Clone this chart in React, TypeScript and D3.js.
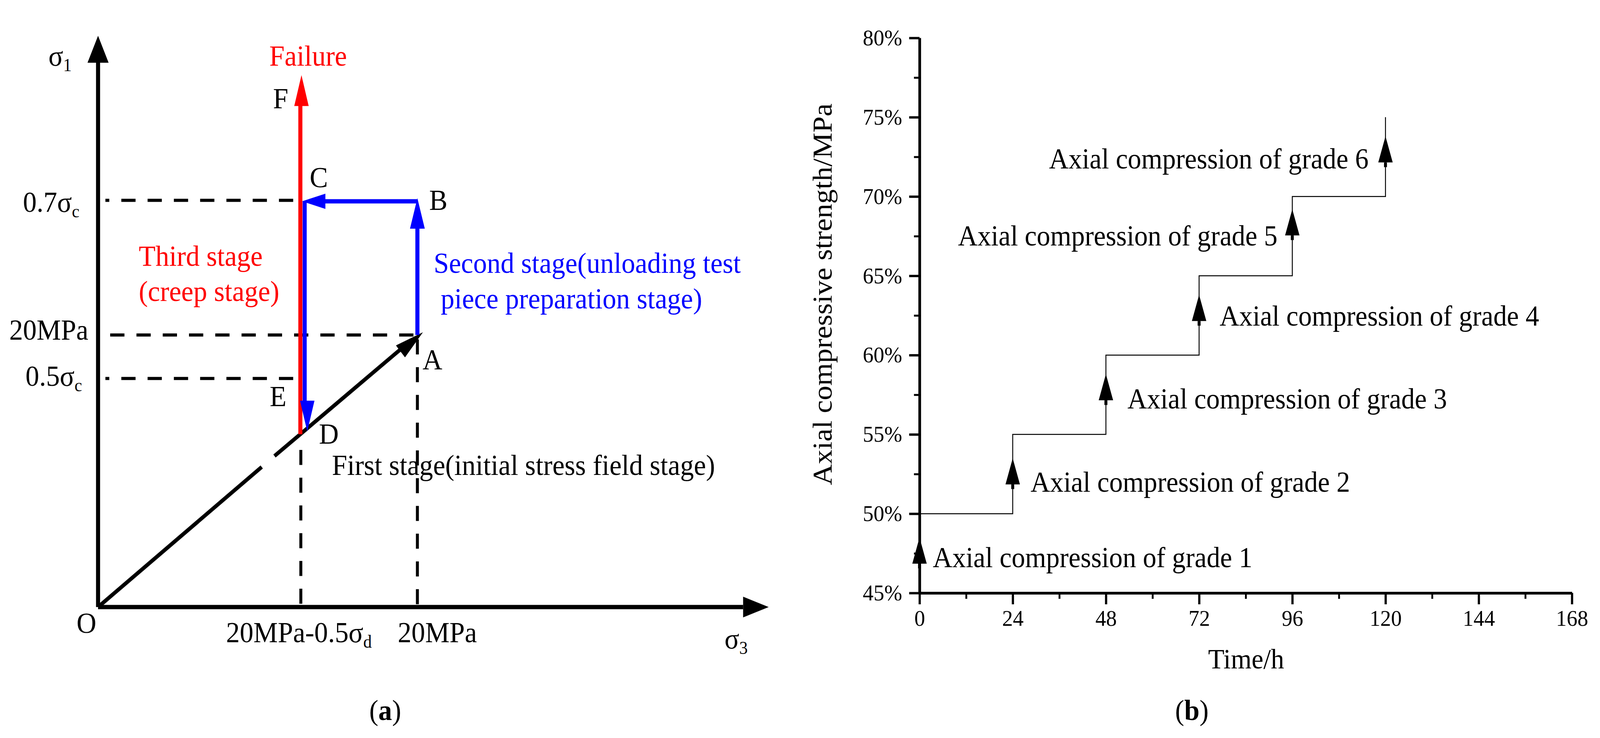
import React, { useRef, useEffect } from "react"
import * as d3 from "d3"

// panel (a): stress path, in MPa-like schematic units
const stressAxisMax = 42
const pointO = [0, 0]
const pointA = [20, 20]
const pointB = [20, 29.83]
const pointC = [12.94, 29.83]
const pointD = [12.94, 12.9]
const redBase = [12.67, 12.7]
const pointF = [12.67, 39.1]
const gapStart = [10.25, 10.3]
const gapEnd = [11.05, 11.1]
const level07 = 29.9
const level05 = 16.8

// panel (b): loading steps
const timeTicks = [0, 24, 48, 72, 96, 120, 144, 168]
const timeMinor = [12, 36, 60, 84, 108, 132, 156]
const strengthTicks = [45, 50, 55, 60, 65, 70, 75, 80]
const strengthMinor = [47.5, 52.5, 57.5, 62.5, 67.5, 72.5, 77.5]
const stepTimes = [0, 24, 24, 48, 48, 72, 72, 96, 96, 120, 120]
const stepValues = [50, 50, 55, 55, 60, 60, 65, 65, 70, 70, 75]
const gradeTimes = [0, 24, 48, 72, 96, 120]
const gradeTips = [48.5, 53.5, 58.8, 63.8, 69.2, 73.8]
const gradeLabels = [1, 2, 3, 4, 5, 6].map((g) => `Axial compression of grade ${g}`)
const gradeLabelX = [2521, 2785, 3047, 3296, 2589, 2835]
const gradeLabelY = [1451, 1258, 1045, 833, 628, 431]

const serif = "'Liberation Serif', 'Times New Roman', serif"
const BLUE = "#0000ff"
const RED = "#ff0000"

const App: React.FunctionComponent = () => {
	const svgRef = useRef<any>()

	useEffect(() => {
		document.body.style.margin = "0"
		document.body.style.overflow = "hidden"
		const svg = d3.select(svgRef.current)
		svg.selectAll("*").remove()

		const x1 = d3.scaleLinear().domain([0, 20]).range([265, 1128])
		const y1 = d3.scaleLinear().domain([0, 20]).range([1553, 857])
		const line1 = d3.line<number[]>().x((d) => x1(d[0])).y((d) => y1(d[1]))

		const a = svg.append("g")

		const stroke = (pts: number[][], color: string, w: number, dash?: string, offset?: number) =>
			a.append("path")
				.attr("d", line1(pts))
				.attr("fill", "none")
				.attr("stroke", color)
				.attr("stroke-width", w)
				.attr("stroke-dasharray", dash || null)
				.attr("stroke-dashoffset", offset || null)

		// triangle head, tip at (tx, ty) pointing along (dx, dy)
		const head = (g: any, tx: number, ty: number, dx: number, dy: number, len: number, wide: number, color: string) => {
			const bx = tx - dx * len
			const by = ty - dy * len
			const px = -dy * wide / 2
			const py = dx * wide / 2
			g.append("path")
				.attr("d", `M${tx},${ty}L${bx + px},${by + py}L${bx - px},${by - py}Z`)
				.attr("fill", color)
		}

		// dashed guides
		const dash = "38.5 32.5"
		stroke([[0.46, level07], [12.3, level07]], "#000", 8, dash, 28)
		stroke([[0.76, 20], [20, 20]], "#000", 8, dash)
		stroke([[0.46, level05], [12.3, level05]], "#000", 8, dash, 28)
		stroke([[12.7, 11.55], [12.7, 0]], "#000", 8, dash)
		stroke([[20, 19.68], [20, 0]], "#000", 8, dash)

		// stress path
		stroke([pointO, gapStart], "#000", 10)
		stroke([gapEnd, [19, 19]], "#000", 10)
		const diagLen = Math.hypot(x1(20) - x1(0), y1(20) - y1(0))
		head(a, x1(20) + 15, y1(20) - 7, (x1(20) - x1(0)) / diagLen, (y1(20) - y1(0)) / diagLen, 78, 39, "#000")

		stroke([redBase, [12.67, 36.9]], RED, 11)
		head(a, x1(pointF[0]) + 3, y1(pointF[1]), 0, -1, 79, 39, RED)

		stroke([pointA, [20, 28]], BLUE, 11)
		head(a, x1(pointB[0]), y1(pointB[1]) - 8, 0, -1, 78, 40, BLUE)
		stroke([pointB, [14.2, 29.83]], BLUE, 11)
		head(a, x1(pointC[0]) - 7, y1(pointC[1]), -1, 0, 63, 39, BLUE)
		stroke([pointC, [12.94, 15]], BLUE, 11)
		head(a, x1(pointD[0]) + 7, y1(pointD[1]), 0, 1, 79, 39, BLUE)

		// axes of (a)
		stroke([pointO, [40.4, 0]], "#000", 11)
		stroke([pointO, [0, 40.1]], "#000", 11)
		head(a, x1(0), y1(stressAxisMax), 0, -1, 69, 57, "#000")
		head(a, x1(stressAxisMax), y1(0), 1, 0, 69, 53, "#000")

		const label = (text: string, x: number, y: number, size = 74, color = "#000", sub?: string, g: any = svg) => {
			const t = g.append("text")
				.attr("x", x)
				.attr("y", y)
				.attr("font-family", serif)
				.attr("font-size", size)
				.attr("fill", color)
				.text(text)
			if (sub) {
				t.append("tspan").attr("dy", 14).attr("font-size", size * 0.62).text(sub)
			}
			return t
		}

		label("σ", 131, 168, 74, "#000", "1")
		label("Failure", 728, 168, 74, RED)
		label("F", 738, 277)
		label("C", 837, 479)
		label("B", 1160, 537)
		label("A", 1142, 945)
		label("D", 862, 1135)
		label("E", 729, 1039)
		label("O", 207, 1619)
		label("Third stage", 375, 680, 74, RED)
		label("(creep stage)", 375, 770, 74, RED)
		label("Second stage(unloading test", 1172, 698, 74, BLUE)
		label("piece preparation stage)", 1191, 789, 74, BLUE)
		label("First stage(initial stress field stage)", 897, 1215)
		label("0.7σ", 62, 542, 74, "#000", "c")
		label("20MPa", 25, 869)
		label("0.5σ", 69, 987, 74, "#000", "c")
		label("20MPa-0.5σ", 611, 1643, 74, "#000", "d")
		label("20MPa", 1075, 1643)
		label("σ", 1958, 1659, 74, "#000", "3")

		const cap = svg.append("text")
			.attr("x", 1041)
			.attr("y", 1842)
			.attr("text-anchor", "middle")
			.attr("font-family", serif)
			.attr("font-size", 74)
		cap.append("tspan").text("(")
		cap.append("tspan").attr("font-weight", "bold").text("a")
		cap.append("tspan").text(")")

		// panel (b)
		const x2 = d3.scaleLinear().domain([0, 168]).range([2485, 4248])
		const y2 = d3.scaleLinear().domain([45, 80]).range([1517, 97])

		const b = svg.append("g")

		const xAxis = d3.axisBottom(x2).tickValues(timeTicks).tickSize(29).tickPadding(14).tickSizeOuter(0)
		const xMinor = d3.axisBottom(x2).tickValues(timeMinor).tickSize(15).tickFormat(() => "").tickSizeOuter(0)
		const yAxis = d3.axisLeft(y2).tickValues(strengthTicks).tickSize(28).tickPadding(19).tickSizeOuter(0)
			.tickFormat((d) => `${d}%`)
		const yMinor = d3.axisLeft(y2).tickValues(strengthMinor).tickSize(15).tickFormat(() => "").tickSizeOuter(0)

		for (const [ax, tr, w] of [
			[xMinor, "translate(0,1517)", 5],
			[yMinor, "translate(2485,0)", 5],
			[xAxis, "translate(0,1517)", 6],
			[yAxis, "translate(2485,0)", 6],
		] as [any, string, number][]) {
			const g = b.append("g").attr("transform", tr).call(ax)
			g.selectAll("line").attr("stroke", "#000").attr("stroke-width", w)
			g.select(".domain").attr("stroke", "#000").attr("stroke-width", 7)
			g.selectAll("text")
				.attr("font-family", serif)
				.attr("font-size", 58)
				.attr("fill", "#000")
		}

		const stepLine = d3.line<number>()
			.x((d, i) => x2(stepTimes[i]))
			.y((d) => y2(d))
		b.append("path")
			.attr("d", stepLine(stepValues))
			.attr("fill", "none")
			.attr("stroke", "#000")
			.attr("stroke-width", 2.5)

		gradeTips.forEach((v, i) => {
			const tx = x2(gradeTimes[i])
			const ty = y2(v)
			head(b, tx, ty, 0, -1, 67, 39, "#000")
			b.append("rect")
				.attr("x", tx - 4)
				.attr("y", ty + 67)
				.attr("width", 8)
				.attr("height", 12)
				.attr("fill", "#000")
		})

		gradeLabels.forEach((t, i) => label(t, gradeLabelX[i], gradeLabelY[i], 73))

		label("Time/h", 3265, 1710, 72)
		svg.append("text")
			.attr("transform", "translate(2247,753) rotate(-90)")
			.attr("text-anchor", "middle")
			.attr("font-family", serif)
			.attr("font-size", 74.5)
			.text("Axial compressive strength/MPa")

		const capB = svg.append("text")
			.attr("x", 3221)
			.attr("y", 1842)
			.attr("text-anchor", "middle")
			.attr("font-family", serif)
			.attr("font-size", 74)
		capB.append("tspan").text("(")
		capB.append("tspan").attr("font-weight", "bold").text("b")
		capB.append("tspan").text(")")
	}, [])

	return (
		<svg
			ref={svgRef}
			viewBox="0 0 4324 1888"
			preserveAspectRatio="none"
			style={{ position: "absolute", left: 0, top: 0, width: "100vw", height: "100vh", background: "#fff" }}
		></svg>
	)
}

export default App
